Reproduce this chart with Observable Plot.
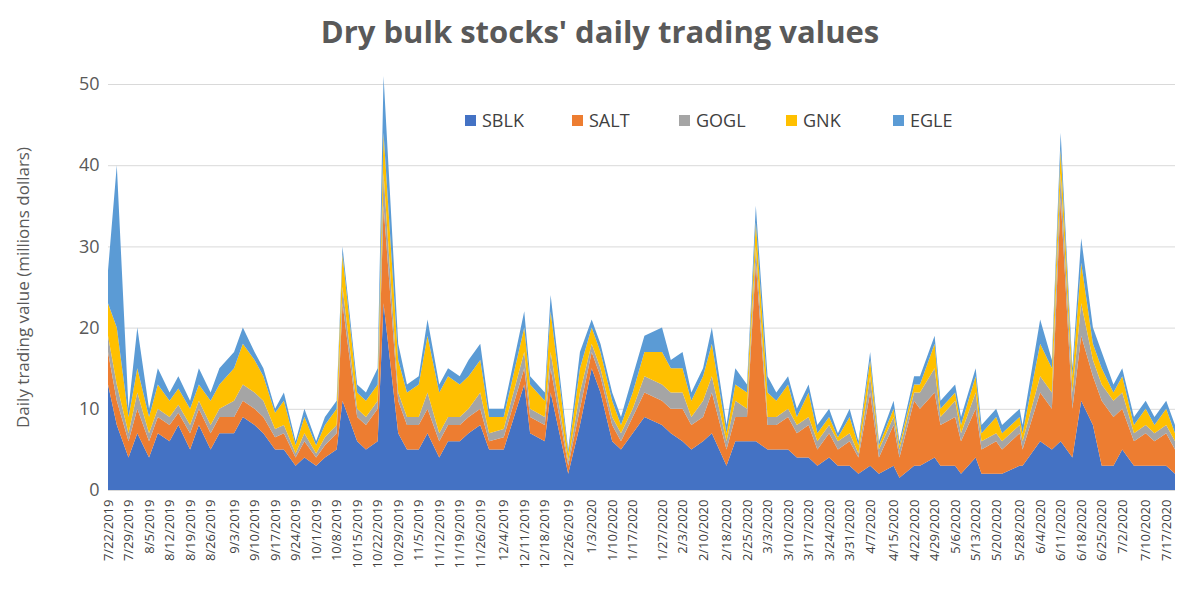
<!DOCTYPE html>
<html><head><meta charset="utf-8">
<script src="https://cdn.jsdelivr.net/npm/d3@7"></script>
<script src="https://cdn.jsdelivr.net/npm/@observablehq/plot@0.6"></script>
<style>
body{margin:0;background:#fff;font-family:"Open Sans",Arial,sans-serif;}
#wrap{position:relative;width:1200px;height:589px;}
#title{height:55px;line-height:62px;text-align:center;font-size:31px;font-weight:bold;color:#595959;}
#legend{position:absolute;top:108px;left:465px;display:flex;gap:0;font-size:18px;color:#404040;}
#legend div{width:107px;display:flex;align-items:center;}
#legend span.sw{display:inline-block;width:11px;height:11px;margin-right:6px;}
</style></head><body>
<div id="wrap"><div id="title">Dry bulk stocks' daily trading values</div><div id="legend"></div><div id="chart"></div></div>
<script>
const series=["SBLK","SALT","GOGL","GNK","EGLE"];
const colors=["#4472C4","#ED7D31","#A5A5A5","#FFC000","#5B9BD5"];
const dates=["2019-07-22","2019-07-25","2019-07-29","2019-08-01","2019-08-05","2019-08-08","2019-08-12","2019-08-15","2019-08-19","2019-08-22","2019-08-26","2019-08-29","2019-09-03","2019-09-06","2019-09-10","2019-09-13","2019-09-17","2019-09-20","2019-09-24","2019-09-27","2019-10-01","2019-10-04","2019-10-08","2019-10-10","2019-10-15","2019-10-18","2019-10-22","2019-10-24","2019-10-29","2019-11-01","2019-11-05","2019-11-08","2019-11-12","2019-11-15","2019-11-19","2019-11-22","2019-11-26","2019-11-29","2019-12-04","2019-12-11","2019-12-13","2019-12-18","2019-12-20","2019-12-26","2019-12-30","2020-01-03","2020-01-06","2020-01-10","2020-01-13","2020-01-17","2020-01-21","2020-01-27","2020-01-30","2020-02-03","2020-02-06","2020-02-10","2020-02-13","2020-02-18","2020-02-21","2020-02-25","2020-02-28","2020-03-03","2020-03-06","2020-03-10","2020-03-13","2020-03-17","2020-03-20","2020-03-24","2020-03-27","2020-03-31","2020-04-03","2020-04-07","2020-04-10","2020-04-15","2020-04-17","2020-04-22","2020-04-24","2020-04-29","2020-05-01","2020-05-06","2020-05-08","2020-05-13","2020-05-15","2020-05-20","2020-05-22","2020-05-28","2020-05-29","2020-06-04","2020-06-08","2020-06-11","2020-06-15","2020-06-18","2020-06-22","2020-06-25","2020-06-29","2020-07-02","2020-07-06","2020-07-10","2020-07-13","2020-07-17","2020-07-20"];
const SBLK=[13,8,4,7,4,7,6,8,5,8,5,7,7,9,8,7,5,5,3,4,3,4,5,11,6,5,6,23,7,5,5,7,4,6,6,7,8,5,5,13,7,6,12,2,8,15,12,6,5,7,9,8,7,6,5,6,7,3,6,6,6,5,5,5,4,4,3,4,3,3,2,3,2,3,1.5,3,3,4,3,3,2,4,2,2,2,3,3,6,5,6,4,11,8,3,3,5,3,3,3,3,2];
const SALT=[4,3,2,3,2,2,2,1.5,2,2,2,2,2,2,2,2,1.5,2,1,2,1,1.5,2,12,3,3,4,12,4,3,3,3,2,2,2,2,2,1,1.5,2,2,2,3,1,2,2,2,2,1,2,3,3,3,4,3,3,5,2,3,3,22,3,3,4,3,4,2,3,2,3,2,9,2,5,2.5,8,7,8,5,6,4,6,3,4,3,4,2,6,5,30,6,8,6,8,6,5,3,4,3,4,3];
const GOGL=[2,2,1,2,1,1,1,1,1,1,1,1,2,2,2,2,1,1,0.5,1,0.5,1,1,2,1,1,1,4,1,1,1,2,1,1,1,1,2,1,1,2,1,1,2,0.5,2,1,1,1,1,1,2,2,2,2,1,2,2,1,2,1,2,1,1,1,1,1,1,1,1,1,0.5,2,1,1,1,1,2,3,1,2,1,2,1,1,1,1,1,2,2,3,2,4,2,2,2,2,1,1,1,1,1];
const GNK=[4,7,2,3,2,3,2,2,2,2,3,3,4,5,4,3,2,3,1,2,1,1.5,2,4,2,2,2,5,4,3,4,7,5,5,4,4,4,2,1.5,3,3,2,5,1,3,2,2,2,1,2,3,4,3,3,2,3,4,1,2,2,3,3,2,3,1,3,1,1,0.5,2,1,2,0.5,1,0.5,1,1,3,1,1,1,2,1,2,1,1,1,4,3,3,2,5,2,2,1,2,1,2,1,2,1];
const EGLE=[4,20,1,5,1,2,1,1.5,1,2,1,2,2,2,1,1,0.5,1,0.5,1,0.5,1,1,1,1,1,2,7,2,1,1,2,1,1,1,2,2,1,1,2,1,1,2,0.5,2,1,1,1,1,2,2,3,1,2,1,1,2,1,2,1,2,2,1,1,1,1,1,1,0.5,1,0.5,1,0.5,1,0.5,1,1,1,1,1,1,1,1,1,1,1,1,3,1,2,1,3,2,2,1,1,1,1,1,1,1];
const tickLabels=["2019-07-22","2019-07-29","2019-08-05","2019-08-12","2019-08-19","2019-08-26","2019-09-03","2019-09-10","2019-09-17","2019-09-24","2019-10-01","2019-10-08","2019-10-15","2019-10-22","2019-10-29","2019-11-05","2019-11-12","2019-11-19","2019-11-26","2019-12-04","2019-12-11","2019-12-18","2019-12-26","2020-01-03","2020-01-10","2020-01-17","2020-01-27","2020-02-03","2020-02-10","2020-02-18","2020-02-25","2020-03-03","2020-03-10","2020-03-17","2020-03-24","2020-03-31","2020-04-07","2020-04-15","2020-04-22","2020-04-29","2020-05-06","2020-05-13","2020-05-20","2020-05-28","2020-06-04","2020-06-11","2020-06-18","2020-06-25","2020-07-02","2020-07-10","2020-07-17"];
const vals={SBLK,SALT,GOGL,GNK,EGLE};
const data=[];
dates.forEach((d,i)=>series.forEach(s=>data.push({date:new Date(d),series:s,value:vals[s][i]})));
const fmt=d=>`${d.getUTCMonth()+1}/${d.getUTCDate()}/${d.getUTCFullYear()}`;
const chart=Plot.plot({
  width:1200,height:534,marginLeft:108,marginRight:25,marginTop:29,marginBottom:99,
  style:{fontFamily:"Open Sans",color:"#404040",fontSize:"13px"},
  x:{type:"utc",domain:[new Date("2019-07-22"),new Date("2020-07-20")],ticks:tickLabels.map(d=>new Date(d)),tickFormat:fmt,tickRotate:-90,tickSize:0,label:null},
  y:{domain:[0,50],ticks:[0,10,20,30,40,50],tickSize:0,label:"Daily trading value (millions dollars)",labelAnchor:"center",labelArrow:false,labelOffset:92},
  color:{domain:series,range:colors},
  marks:[
    Plot.gridY([0,10,20,30,40,50],{stroke:"#d9d9d9",strokeOpacity:1}),
    Plot.areaY(data,Plot.stackY({order:series},{x:"date",y:"value",fill:"series"})),
    Plot.ruleY([0],{stroke:"#d9d9d9"})
  ]
});
d3.select(chart).selectAll("[aria-label='y-axis tick label'] text").style("font-size","18px").style("fill","#595959");
d3.select(chart).selectAll("[aria-label='y-axis label'] text").style("font-size","17px").style("fill","#595959");
document.getElementById("chart").appendChild(chart);
const lg=document.getElementById("legend");
series.forEach((s,i)=>{const e=document.createElement("div");e.innerHTML=`<span class="sw" style="background:${colors[i]}"></span>${s}`;lg.appendChild(e);});
</script></body></html>
